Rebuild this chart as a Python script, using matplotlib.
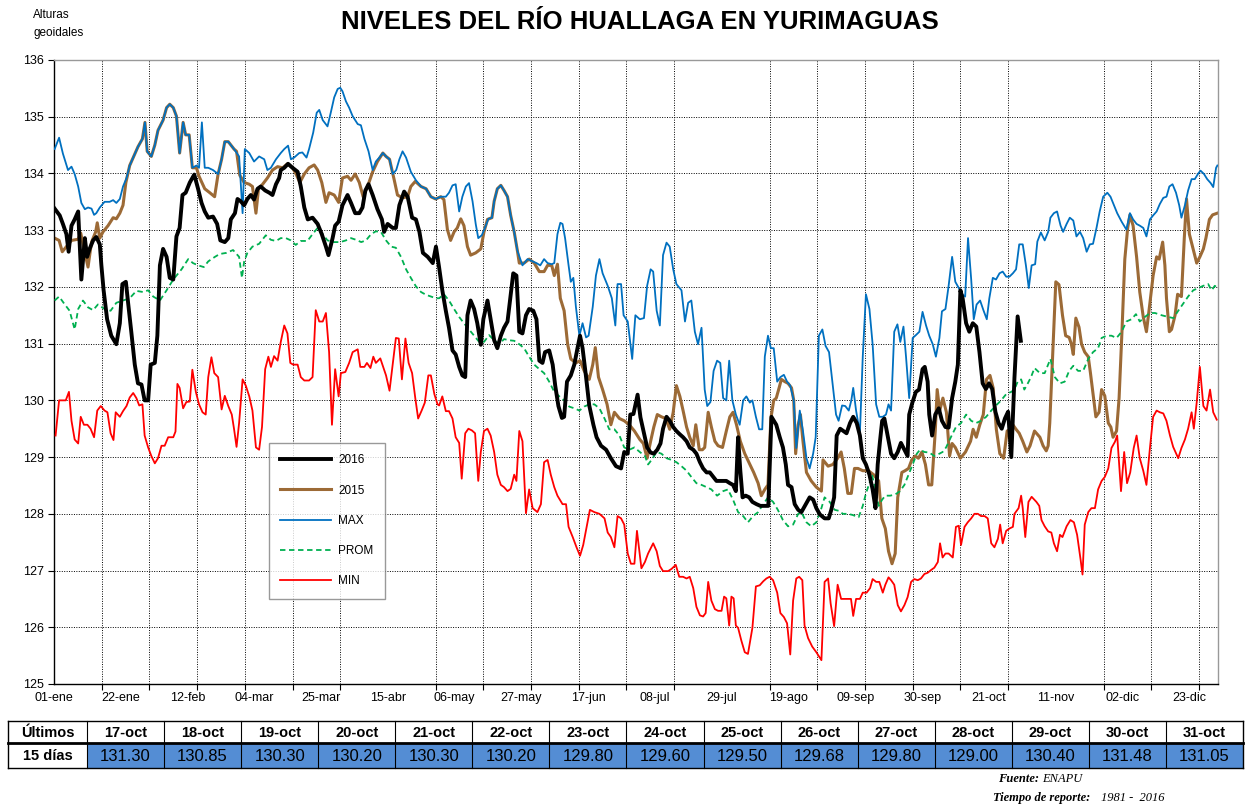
import matplotlib
matplotlib.use("Agg")
import matplotlib.pyplot as plt
from matplotlib import font_manager
from matplotlib.patches import Rectangle
from matplotlib.lines import Line2D

# --- datos (dia del año, cota) ---
serie_2016 = [
    (0.2, 133.38), (1.8, 133.26), (2.8, 133.11), (3.9, 132.93), (4.6, 132.62), (5.5, 133.08),
    (6.5, 133.19), (7.6, 133.33), (8.1, 132.71), (8.6, 132.13), (9.7, 132.86), (10.4, 132.53),
    (11.2, 132.67), (12.3, 132.82), (13.3, 132.88), (14.4, 132.75), (14.9, 132.38), (15.6, 131.94),
    (16.7, 131.43), (18.0, 131.14), (19.6, 130.99), (20.7, 131.36), (21.5, 132.05), (22.6, 132.09),
    (23.3, 131.72), (24.3, 131.21), (25.4, 130.63), (26.4, 130.30), (27.5, 130.28), (28.5, 130.00),
    (29.6, 130.00), (30.4, 130.63), (31.7, 130.66), (32.5, 131.14), (33.3, 132.38), (34.3, 132.67),
    (35.4, 132.53), (36.4, 132.16), (37.5, 132.13), (38.5, 132.89), (39.5, 133.04), (40.4, 133.62),
    (41.4, 133.66), (42.7, 133.84), (44.1, 133.98), (45.3, 133.73), (46.4, 133.48), (47.4, 133.33),
    (48.5, 133.22), (50.0, 133.24), (51.3, 133.11), (52.3, 132.82), (53.7, 132.79), (54.8, 132.86),
    (55.6, 133.19), (56.9, 133.30), (57.7, 133.55), (58.7, 133.51), (59.8, 133.44), (60.8, 133.55),
    (61.9, 133.62), (62.9, 133.54), (64.0, 133.73), (65.0, 133.77), (66.4, 133.70), (67.7, 133.66),
    (68.7, 133.62), (69.8, 133.81), (70.8, 133.92), (71.3, 134.06), (72.4, 134.10), (73.6, 134.17),
    (75.0, 134.10), (76.6, 134.03), (77.6, 133.77), (78.7, 133.40), (79.8, 133.19), (81.3, 133.22),
    (82.9, 133.11), (84.2, 132.93), (85.5, 132.71), (86.3, 132.56), (87.6, 132.86), (88.4, 133.08),
    (89.5, 133.15), (90.7, 133.44), (92.3, 133.62), (93.4, 133.48), (94.7, 133.30), (96.0, 133.30),
    (97.0, 133.40), (97.9, 133.70), (98.9, 133.81), (100.2, 133.62), (101.7, 133.37), (103.1, 133.19),
    (103.8, 132.97), (104.9, 133.11), (106.5, 133.04), (107.5, 133.04), (108.6, 133.44), (110.1, 133.68),
    (111.2, 133.59), (112.6, 133.22), (113.8, 133.19), (114.9, 132.97), (116.0, 132.60), (117.5, 132.53),
    (119.1, 132.42), (120.1, 132.71), (121.1, 132.34), (122.1, 131.94), (123.2, 131.58), (124.2, 131.28),
    (125.3, 130.88), (126.3, 130.81), (127.4, 130.59), (128.4, 130.44), (129.3, 130.41), (130.0, 131.50),
    (131.0, 131.76), (132.1, 131.61), (133.1, 131.36), (134.2, 130.98), (135.0, 131.43), (136.3, 131.76),
    (137.3, 131.43), (138.4, 131.06), (139.4, 130.92), (140.5, 131.14), (141.5, 131.28), (142.6, 131.39),
    (143.6, 131.86), (144.4, 132.24), (145.4, 132.20), (146.3, 131.21), (147.3, 131.18), (148.4, 131.50),
    (149.4, 131.61), (150.7, 131.58), (151.7, 131.43), (152.6, 130.70), (153.6, 130.66), (154.4, 130.85),
    (155.7, 130.88), (156.8, 130.63), (157.6, 130.26), (158.6, 129.90), (159.7, 129.69), (160.4, 129.71),
    (161.3, 130.33), (162.5, 130.44), (163.6, 130.63), (164.6, 130.92), (165.4, 131.14), (166.2, 130.92),
    (167.3, 130.41), (168.3, 129.91), (169.6, 129.57), (170.6, 129.35), (172.0, 129.20), (173.6, 129.13),
    (175.1, 128.98), (176.7, 128.84), (178.3, 128.80), (179.3, 129.09), (180.4, 129.06), (181.2, 129.75),
    (182.2, 129.76), (183.5, 130.10), (184.4, 129.70), (185.5, 129.42), (186.5, 129.17), (187.6, 129.08),
    (188.6, 129.06), (189.7, 129.13), (190.7, 129.24), (191.5, 129.50), (192.6, 129.71), (193.6, 129.64),
    (194.7, 129.53), (195.7, 129.46), (196.8, 129.40), (197.8, 129.35), (198.9, 129.28), (199.9, 129.17),
    (201.0, 129.13), (202.0, 129.06), (203.1, 128.91), (204.1, 128.80), (205.2, 128.73), (206.2, 128.73),
    (207.3, 128.65), (208.3, 128.58), (209.3, 128.58), (210.4, 128.58), (211.4, 128.58), (212.5, 128.54),
    (213.5, 128.51), (214.4, 128.40), (215.1, 129.35), (215.8, 128.76), (216.5, 128.29), (217.5, 128.32),
    (218.6, 128.29), (219.6, 128.21), (220.9, 128.17), (222.1, 128.14), (223.5, 128.14), (224.6, 128.14),
    (225.6, 129.71), (227.1, 129.57), (228.2, 129.35), (229.2, 129.17), (230.1, 128.87), (230.8, 128.51),
    (231.9, 128.47), (232.9, 128.17), (234.0, 128.07), (235.0, 128.03), (236.4, 128.17), (237.6, 128.29),
    (238.7, 128.25), (239.7, 128.10), (240.8, 127.99), (242.3, 127.92), (243.6, 127.92), (244.4, 128.07),
    (245.3, 128.29), (246.1, 129.38), (247.2, 129.50), (248.2, 129.46), (249.2, 129.42), (250.3, 129.60),
    (251.3, 129.71), (252.4, 129.60), (253.4, 129.38), (254.3, 128.98), (255.3, 128.87), (256.4, 128.69),
    (257.4, 128.43), (258.3, 128.10), (259.0, 128.87), (259.7, 129.27), (260.4, 129.64), (261.1, 129.68),
    (262.1, 129.38), (263.2, 129.06), (264.2, 128.98), (265.3, 129.09), (266.3, 129.25), (267.4, 129.13),
    (268.4, 129.02), (268.9, 129.75), (269.9, 129.96), (271.0, 130.15), (272.0, 130.19), (273.1, 130.55),
    (273.8, 130.59), (274.7, 130.33), (275.2, 129.75), (276.1, 129.38), (277.1, 129.75), (278.2, 129.86),
    (279.2, 129.64), (280.3, 129.53), (281.3, 129.52), (282.4, 130.04), (283.4, 130.33), (284.2, 130.63),
    (285.0, 131.94), (285.7, 131.80), (286.8, 131.36), (287.8, 131.21), (288.9, 131.36),
]

# ultimos 15 dias (17-oct a 31-oct)
ultimos_fechas = ["17-oct", "18-oct", "19-oct", "20-oct", "21-oct", "22-oct", "23-oct", "24-oct",
                  "25-oct", "26-oct", "27-oct", "28-oct", "29-oct", "30-oct", "31-oct"]
ultimos_vals = [131.30, 130.85, 130.30, 130.20, 130.30, 130.20, 129.80, 129.60,
                129.50, 129.68, 129.80, 129.00, 130.40, 131.48, 131.05]
ultimos_dia0 = 290  # 17-oct en año bisiesto

serie_2015 = [
    (0.2, 132.86), (1.6, 132.82), (2.6, 132.62), (3.9, 132.71), (5.5, 132.82), (7.6, 132.84),
    (8.4, 132.95), (9.7, 132.60), (10.7, 132.35), (11.8, 132.79), (13.1, 132.97), (13.6, 133.13),
    (14.4, 132.86), (15.4, 132.97), (17.0, 133.08), (18.6, 133.22), (19.6, 133.20), (20.7, 133.30),
    (21.7, 133.44), (22.6, 133.84), (23.8, 134.14), (24.9, 134.28), (26.4, 134.47), (27.8, 134.61),
    (28.6, 134.90), (29.3, 134.39), (30.6, 134.30), (31.7, 134.50), (32.7, 134.76), (34.3, 134.94),
    (35.4, 135.16), (36.4, 135.22), (37.5, 135.16), (38.5, 135.01), (39.5, 134.36), (40.6, 134.90),
    (41.4, 134.68), (42.5, 134.68), (43.5, 134.10), (44.8, 134.10), (45.6, 133.95), (47.4, 133.73),
    (49.0, 133.66), (50.5, 133.59), (51.6, 133.99), (52.7, 134.25), (53.7, 134.56), (54.8, 134.56),
    (56.6, 134.43), (57.4, 134.39), (58.4, 133.97), (59.8, 133.84), (61.4, 133.81), (62.4, 133.77),
    (63.5, 133.30), (64.3, 133.73), (65.6, 133.81), (67.1, 133.92), (68.7, 134.06), (70.3, 134.12),
    (71.9, 134.10), (73.4, 134.17), (75.0, 134.10), (76.1, 133.99), (77.3, 133.84), (78.7, 133.99),
    (80.2, 134.10), (81.8, 134.15), (82.9, 134.06), (84.2, 133.84), (85.5, 133.49), (86.5, 133.66),
    (88.1, 133.62), (89.5, 133.49), (90.7, 133.92), (92.3, 133.95), (93.4, 133.88), (94.7, 133.99),
    (96.0, 133.84), (97.2, 133.59), (98.6, 133.77), (100.2, 134.03), (101.7, 134.21), (103.4, 134.36),
    (104.4, 134.30), (105.5, 134.25), (107.0, 133.88), (108.0, 133.62), (109.6, 133.57), (111.2, 133.59),
    (112.2, 133.77), (113.6, 133.86), (115.4, 133.77), (117.0, 133.73), (118.5, 133.59), (120.0, 133.55),
    (121.6, 133.59), (122.6, 133.54), (123.7, 133.01), (124.7, 132.82), (125.8, 132.97), (126.8, 133.04),
    (127.9, 133.20), (128.9, 133.08), (130.0, 132.71), (131.0, 132.56), (132.6, 132.60), (134.2, 132.67),
    (135.2, 132.97), (136.3, 133.19), (137.7, 133.22), (138.4, 133.51), (139.4, 133.73), (140.5, 133.79),
    (141.5, 133.70), (142.6, 133.59), (143.6, 133.26), (144.7, 132.97), (145.7, 132.64), (146.3, 132.42),
    (147.8, 132.42), (149.4, 132.49), (151.0, 132.42), (152.6, 132.27), (154.1, 132.27), (155.2, 132.38),
    (156.5, 132.38), (157.3, 132.20), (158.3, 132.40), (159.2, 131.80), (160.4, 131.58), (161.5, 130.99),
    (162.5, 130.73), (164.1, 130.66), (165.4, 130.70), (166.7, 130.52), (168.3, 130.37), (169.4, 130.63),
    (170.2, 130.93), (171.2, 130.41), (172.5, 130.19), (173.9, 129.93), (175.1, 129.57), (176.2, 129.79),
    (177.8, 129.68), (179.3, 129.64), (180.9, 129.57), (182.5, 129.46), (184.2, 129.31), (185.3, 129.24),
    (186.5, 128.98), (187.6, 129.28), (188.6, 129.53), (189.7, 129.75), (191.0, 129.71), (192.4, 129.68),
    (193.6, 129.49), (194.7, 129.79), (195.7, 130.26), (196.8, 130.07), (197.8, 129.82), (198.9, 129.53),
    (199.9, 129.35), (201.0, 129.20), (201.8, 129.57), (202.9, 129.13), (203.9, 129.13), (204.6, 129.17),
    (205.7, 129.79), (206.7, 129.53), (207.8, 129.28), (208.8, 129.20), (210.2, 129.17), (211.4, 129.46),
    (212.5, 129.71), (213.5, 129.79), (214.6, 129.57), (215.8, 129.28), (217.2, 129.06), (218.8, 128.87),
    (220.0, 128.73), (221.4, 128.54), (222.4, 128.32), (223.5, 128.43), (224.5, 128.51), (225.4, 129.68),
    (226.3, 130.00), (227.1, 130.04), (228.0, 130.22), (228.7, 130.37), (229.8, 130.33), (230.8, 130.30),
    (231.9, 130.22), (232.6, 130.00), (233.2, 129.06), (234.0, 129.57), (234.7, 129.75), (235.5, 129.28),
    (236.6, 128.73), (238.1, 128.58), (239.7, 128.47), (241.3, 128.40), (241.8, 128.95), (243.4, 128.84),
    (244.9, 128.87), (246.4, 128.98), (247.5, 129.09), (248.5, 128.80), (249.6, 128.36), (250.7, 128.36),
    (251.7, 128.80), (252.8, 128.80), (254.3, 128.76), (256.1, 128.76), (257.7, 128.69), (259.3, 128.58),
    (260.3, 127.92), (261.4, 127.74), (262.4, 127.34), (263.5, 127.12), (264.5, 127.30), (265.3, 128.29),
    (266.6, 128.73), (267.6, 128.76), (268.7, 128.80), (269.7, 128.95), (270.8, 129.02), (271.8, 128.98),
    (272.9, 129.09), (274.0, 128.87), (275.0, 128.51), (276.0, 128.51), (277.1, 129.46), (277.7, 130.19),
    (278.5, 129.82), (279.5, 130.04), (280.6, 129.79), (281.6, 129.02), (282.4, 129.24), (283.4, 129.17),
    (285.0, 128.98), (286.6, 129.09), (288.2, 129.28), (289.0, 129.49), (290.0, 129.35), (291.1, 129.57),
    (292.2, 129.75), (293.2, 130.37), (294.3, 130.44), (295.3, 130.22), (296.3, 129.49), (297.4, 129.06),
    (298.6, 128.98), (299.7, 129.46), (300.7, 129.49), (301.5, 129.57), (302.5, 129.49), (303.5, 129.42),
    (304.6, 129.28), (305.9, 129.09), (306.9, 129.20), (308.3, 129.46), (310.0, 129.35), (311.0, 129.20),
    (312.0, 129.11), (312.6, 129.20), (313.1, 129.60), (313.9, 130.66), (315.0, 132.09), (316.0, 132.04),
    (317.1, 131.50), (318.1, 131.14), (319.2, 131.11), (319.9, 130.99), (320.5, 130.81), (321.3, 131.45),
    (322.3, 131.29), (323.1, 130.99), (324.1, 130.85), (325.2, 130.77), (325.9, 130.48), (326.7, 130.12),
    (327.6, 129.71), (328.6, 129.79), (329.4, 130.19), (330.4, 130.08), (331.5, 129.60), (332.3, 129.53),
    (333.0, 129.35), (334.1, 129.46), (334.9, 130.04), (335.8, 131.21), (336.7, 132.49), (337.6, 133.04),
    (338.3, 133.27), (339.3, 133.08), (340.4, 132.53), (341.4, 131.91), (342.5, 131.47), (343.5, 131.21),
    (344.6, 131.72), (345.6, 132.20), (346.7, 132.53), (347.5, 132.49), (348.6, 132.79), (349.3, 132.38),
    (349.8, 131.80), (350.7, 131.21), (351.4, 131.25), (352.5, 131.50), (353.3, 131.87), (354.5, 131.83),
    (355.4, 132.86), (356.1, 133.55), (357.0, 132.93), (358.0, 132.71), (359.3, 132.42), (360.3, 132.53),
    (361.4, 132.67), (362.2, 132.86), (363.3, 133.19), (364.3, 133.27), (365.8, 133.30),
]

serie_max = [
    (0.2, 134.43), (1.6, 134.63), (2.8, 134.35), (4.4, 134.06), (5.5, 134.12), (6.5, 133.99),
    (7.6, 133.77), (8.6, 133.48), (9.7, 133.37), (10.7, 133.40), (11.8, 133.38), (12.6, 133.27),
    (13.3, 133.30), (14.4, 133.40), (15.9, 133.50), (17.5, 133.50), (18.6, 133.53), (19.6, 133.48),
    (20.7, 133.55), (21.7, 133.77), (22.8, 133.92), (23.8, 134.14), (24.9, 134.28), (26.4, 134.47),
    (27.8, 134.61), (28.6, 134.90), (29.3, 134.39), (30.6, 134.30), (31.7, 134.50), (32.7, 134.76),
    (34.3, 134.94), (35.4, 135.16), (36.4, 135.22), (37.5, 135.16), (38.5, 135.01), (39.5, 134.36),
    (40.6, 134.90), (41.4, 134.68), (42.5, 134.68), (43.5, 134.10), (44.8, 134.14), (45.6, 134.10),
    (46.5, 134.90), (47.4, 134.10), (48.5, 134.10), (50.0, 134.06), (51.6, 133.99), (52.7, 134.25),
    (53.7, 134.56), (54.8, 134.56), (56.6, 134.43), (58.2, 134.30), (59.3, 133.30), (60.0, 134.43),
    (61.4, 134.36), (62.9, 134.21), (64.5, 134.30), (66.1, 134.25), (67.1, 134.06), (68.2, 134.10),
    (69.8, 134.25), (71.3, 134.36), (72.4, 134.43), (73.6, 134.49), (74.5, 134.25), (75.5, 134.28),
    (77.1, 134.36), (78.1, 134.37), (79.4, 134.28), (80.2, 134.43), (81.5, 134.72), (82.6, 135.07),
    (83.4, 135.12), (84.5, 134.94), (86.0, 134.83), (87.1, 135.09), (88.1, 135.34), (89.2, 135.49),
    (90.0, 135.51), (90.7, 135.45), (91.8, 135.27), (92.8, 135.16), (93.9, 135.01), (95.5, 134.87),
    (96.5, 134.85), (97.6, 134.61), (98.9, 134.39), (100.2, 134.06), (101.2, 134.21), (102.3, 134.28),
    (103.4, 134.36), (104.4, 134.30), (105.5, 134.25), (106.5, 133.99), (107.6, 134.06), (108.6, 134.25),
    (109.6, 134.39), (110.7, 134.28), (112.2, 134.03), (113.8, 133.88), (115.4, 133.77), (117.0, 133.73),
    (118.5, 133.59), (120.0, 133.55), (121.6, 133.59), (123.2, 133.59), (124.2, 133.66), (125.3, 133.79),
    (126.3, 133.81), (127.4, 133.33), (128.4, 133.59), (129.5, 133.77), (130.5, 133.83), (131.6, 133.51),
    (132.6, 133.11), (133.4, 132.86), (134.5, 132.91), (135.5, 133.04), (136.6, 133.20), (137.7, 133.22),
    (138.4, 133.51), (139.4, 133.73), (140.5, 133.79), (141.5, 133.70), (142.6, 133.59), (143.6, 133.26),
    (144.7, 132.97), (145.7, 132.64), (147.3, 132.38), (148.9, 132.49), (150.5, 132.45), (151.7, 132.42),
    (152.9, 132.38), (154.1, 132.49), (155.2, 132.42), (156.5, 132.40), (157.3, 132.42), (158.3, 132.93),
    (159.2, 133.13), (159.9, 133.11), (160.7, 132.86), (161.8, 132.38), (162.5, 132.09), (163.3, 132.16),
    (164.1, 131.65), (165.2, 131.14), (166.2, 131.36), (167.3, 131.11), (168.1, 131.14), (169.4, 131.65),
    (170.4, 132.20), (171.5, 132.49), (172.5, 132.24), (174.1, 132.02), (175.4, 131.80), (176.5, 131.32),
    (177.2, 132.05), (178.3, 132.05), (179.1, 131.50), (180.4, 131.39), (181.8, 130.73), (182.8, 131.50),
    (184.2, 131.43), (185.5, 131.45), (186.5, 132.02), (187.6, 132.31), (188.4, 132.27), (189.5, 131.58),
    (190.5, 131.32), (191.5, 132.56), (192.6, 132.78), (193.6, 132.71), (194.7, 132.31), (195.7, 132.05),
    (197.3, 131.94), (198.4, 131.39), (199.4, 131.72), (200.4, 131.76), (201.5, 131.21), (202.5, 130.99),
    (203.6, 131.28), (204.6, 130.19), (205.4, 129.90), (206.4, 129.97), (207.4, 130.52), (208.5, 130.70),
    (209.5, 130.66), (210.4, 130.04), (211.4, 130.00), (212.3, 130.70), (213.3, 130.00), (214.4, 129.75),
    (215.6, 129.57), (216.7, 130.00), (217.7, 130.07), (218.8, 129.96), (219.6, 130.00), (220.7, 129.71),
    (221.7, 129.49), (222.7, 129.49), (223.5, 130.77), (224.5, 131.14), (225.4, 130.92), (226.3, 130.92),
    (227.4, 130.33), (228.4, 130.41), (229.5, 130.45), (230.5, 130.33), (231.5, 130.26), (232.6, 130.00),
    (233.4, 129.16), (234.5, 129.82), (235.5, 129.46), (236.6, 128.98), (237.6, 128.80), (238.7, 129.06),
    (239.5, 129.35), (240.5, 131.14), (241.6, 131.25), (242.6, 130.96), (243.7, 130.85), (244.8, 130.30),
    (245.9, 129.75), (246.7, 129.64), (247.8, 129.91), (248.8, 129.90), (249.9, 129.82), (250.7, 130.00),
    (251.3, 130.22), (252.2, 129.82), (253.4, 129.42), (254.3, 130.77), (255.3, 131.87), (256.4, 131.61),
    (257.4, 130.99), (258.5, 129.93), (259.5, 129.71), (260.6, 129.71), (261.6, 129.75), (262.4, 129.93),
    (263.2, 129.82), (264.2, 131.21), (265.2, 131.34), (266.1, 131.03), (267.1, 131.30), (267.9, 130.77),
    (268.9, 130.04), (270.0, 131.10), (271.0, 131.15), (272.1, 131.21), (273.1, 131.56), (274.2, 131.32),
    (275.2, 131.14), (276.3, 130.99), (277.3, 130.77), (278.4, 131.10), (279.2, 131.57), (280.3, 131.61),
    (281.3, 132.02), (282.4, 132.53), (283.4, 132.09), (284.5, 131.98), (285.5, 131.87), (286.5, 131.83),
    (287.4, 132.86), (288.4, 132.13), (289.2, 131.43), (290.1, 131.69), (291.2, 131.76), (292.3, 131.58),
    (293.3, 131.43), (294.1, 131.80), (295.2, 132.16), (296.2, 132.13), (297.3, 132.24), (298.3, 132.27),
    (299.4, 132.18), (300.4, 132.18), (301.5, 132.24), (302.5, 132.31), (303.5, 132.75), (304.6, 132.75),
    (305.6, 132.38), (306.5, 131.98), (307.4, 132.38), (308.5, 132.40), (309.2, 132.80), (310.3, 132.96),
    (311.5, 132.82), (312.6, 132.97), (313.3, 133.22), (314.4, 133.30), (315.4, 133.33), (316.5, 133.08),
    (317.3, 132.97), (318.4, 133.11), (319.4, 133.22), (320.5, 133.17), (321.5, 132.89), (322.6, 132.97),
    (323.6, 132.86), (324.7, 132.62), (325.7, 132.75), (326.7, 132.76), (327.8, 133.04), (328.8, 133.33),
    (329.9, 133.59), (331.2, 133.66), (332.2, 133.59), (333.3, 133.44), (334.3, 133.30), (335.7, 133.15),
    (337.2, 133.01), (338.3, 133.30), (339.3, 133.19), (340.4, 133.11), (341.4, 133.08), (342.5, 133.04),
    (343.5, 132.89), (344.6, 133.19), (345.6, 133.26), (346.7, 133.33), (347.7, 133.46), (348.8, 133.57),
    (349.8, 133.59), (350.7, 133.77), (351.7, 133.81), (352.8, 133.66), (353.8, 133.44), (354.5, 133.22),
    (355.6, 133.44), (356.6, 133.70), (357.7, 133.90), (358.7, 133.90), (359.8, 134.00), (360.5, 134.05),
    (361.6, 133.99), (362.6, 133.90), (363.7, 133.83), (364.5, 133.76), (365.4, 134.10), (365.8, 134.14),
]

serie_prom = [
    (0.2, 131.76), (1.6, 131.83), (3.4, 131.69), (4.9, 131.58), (6.5, 131.25), (7.6, 131.61),
    (9.1, 131.76), (10.7, 131.64), (12.3, 131.59), (13.8, 131.69), (15.9, 131.61), (17.8, 131.58),
    (19.6, 131.72), (21.7, 131.76), (23.8, 131.80), (25.9, 131.93), (28.0, 131.91), (29.6, 131.94),
    (31.2, 131.83), (33.3, 131.76), (35.4, 131.94), (37.5, 132.13), (40.1, 132.31), (42.2, 132.49),
    (43.7, 132.42), (45.3, 132.38), (47.1, 132.35), (48.5, 132.45), (50.6, 132.53), (52.1, 132.58),
    (54.2, 132.60), (56.3, 132.65), (58.2, 132.53), (59.1, 132.16), (59.8, 132.45), (60.8, 132.60),
    (62.4, 132.71), (64.5, 132.76), (66.6, 132.91), (68.2, 132.83), (69.8, 132.81), (71.3, 132.86),
    (72.9, 132.86), (74.5, 132.82), (76.0, 132.74), (77.6, 132.81), (79.7, 132.81), (81.3, 132.93),
    (82.9, 133.04), (84.5, 132.93), (86.0, 132.82), (88.1, 132.79), (90.0, 132.79), (91.8, 132.82),
    (93.4, 132.86), (95.0, 132.83), (96.6, 132.79), (98.1, 132.82), (99.7, 132.93), (101.2, 132.98),
    (102.8, 132.97), (104.4, 132.82), (106.0, 132.71), (107.5, 132.69), (109.1, 132.53), (110.7, 132.31),
    (112.2, 132.16), (113.8, 132.01), (115.4, 131.91), (117.0, 131.86), (118.5, 131.83), (120.1, 131.80),
    (121.1, 131.80), (122.6, 131.87), (124.2, 131.76), (125.8, 131.61), (127.4, 131.47), (128.9, 131.36),
    (130.5, 131.25), (132.1, 131.14), (133.7, 131.03), (135.2, 131.03), (136.8, 131.15), (138.4, 131.06),
    (140.0, 130.99), (141.5, 131.08), (143.1, 131.06), (144.7, 131.05), (146.3, 130.99), (147.8, 130.92),
    (149.4, 130.77), (151.0, 130.63), (152.6, 130.55), (154.1, 130.48), (155.7, 130.33), (157.3, 130.15),
    (158.9, 130.07), (160.4, 130.00), (162.0, 129.89), (163.6, 129.86), (165.2, 129.82), (166.7, 129.89),
    (168.3, 129.93), (169.9, 129.93), (171.5, 129.86), (173.1, 129.68), (174.6, 129.49), (176.2, 129.49),
    (177.8, 129.38), (179.3, 129.17), (180.9, 129.13), (182.5, 129.17), (184.2, 129.09), (185.8, 129.02),
    (186.8, 128.87), (187.9, 128.95), (189.5, 129.09), (191.0, 129.06), (192.6, 128.98), (194.2, 128.95),
    (195.7, 128.91), (197.3, 128.84), (198.9, 128.76), (200.4, 128.65), (202.0, 128.54), (203.6, 128.51),
    (205.2, 128.47), (206.7, 128.43), (208.5, 128.32), (210.4, 128.40), (211.9, 128.43), (213.5, 128.25),
    (215.1, 128.03), (216.7, 127.96), (218.2, 127.85), (219.8, 127.96), (221.4, 128.03), (223.0, 128.17),
    (224.5, 128.29), (226.1, 128.21), (227.6, 128.07), (229.2, 127.89), (230.8, 127.78), (232.4, 127.81),
    (234.0, 128.00), (235.0, 128.03), (236.6, 127.85), (238.1, 127.78), (239.7, 127.85), (241.3, 128.10),
    (242.3, 128.29), (243.9, 128.21), (245.5, 128.07), (247.0, 128.05), (248.0, 128.00), (249.6, 128.00),
    (251.1, 127.98), (253.0, 127.94), (254.3, 128.14), (255.3, 128.36), (256.4, 128.54), (257.2, 128.69),
    (258.3, 128.43), (259.3, 128.14), (260.4, 128.25), (261.4, 128.32), (262.9, 128.32), (264.5, 128.34),
    (266.0, 128.40), (267.4, 128.51), (268.7, 128.69), (270.0, 128.87), (271.3, 129.06), (272.3, 129.13),
    (273.7, 129.09), (275.2, 129.08), (276.8, 129.02), (278.4, 129.06), (279.4, 129.09), (280.5, 129.17),
    (282.0, 129.35), (283.6, 129.53), (285.2, 129.60), (286.8, 129.75), (288.4, 129.64), (289.9, 129.60),
    (291.5, 129.64), (293.1, 129.71), (294.7, 129.82), (296.2, 129.91), (297.8, 130.00), (299.4, 130.11),
    (301.0, 130.15), (302.0, 130.19), (303.0, 130.33), (304.1, 130.37), (305.1, 130.19), (306.2, 130.30),
    (307.2, 130.41), (308.3, 130.57), (310.0, 130.48), (311.5, 130.48), (313.3, 130.73), (314.7, 130.41),
    (316.3, 130.30), (317.8, 130.33), (319.2, 130.52), (320.5, 130.61), (322.0, 130.52), (323.6, 130.52),
    (325.2, 130.73), (326.7, 130.85), (328.3, 130.92), (329.4, 131.10), (331.0, 131.14), (332.5, 131.14),
    (334.1, 131.10), (335.7, 131.21), (337.2, 131.39), (338.8, 131.43), (340.2, 131.52), (341.4, 131.39),
    (343.0, 131.47), (344.6, 131.54), (346.2, 131.54), (348.3, 131.50), (350.4, 131.47), (352.0, 131.45),
    (353.5, 131.58), (355.1, 131.71), (356.6, 131.83), (358.2, 131.94), (359.8, 131.98), (361.4, 132.02),
    (362.9, 132.05), (364.0, 131.94), (365.0, 132.02), (365.8, 131.98),
]

serie_min = [
    (0.5, 129.38), (1.6, 130.00), (2.8, 130.00), (3.7, 130.00), (4.7, 130.15), (5.5, 129.64),
    (6.5, 129.31), (7.6, 129.24), (8.4, 129.71), (9.4, 129.57), (10.5, 129.57), (11.5, 129.50),
    (12.6, 129.35), (13.6, 129.82), (14.7, 129.90), (15.9, 129.82), (16.8, 129.79), (17.8, 129.42),
    (18.7, 129.30), (19.4, 129.79), (20.7, 129.71), (21.7, 129.81), (22.8, 129.90), (23.8, 130.05),
    (24.9, 130.13), (25.9, 130.04), (26.8, 129.91), (27.8, 129.93), (28.5, 129.38), (29.6, 129.17),
    (30.6, 129.02), (31.7, 128.89), (32.7, 128.98), (33.8, 129.20), (34.8, 129.20), (35.9, 129.35),
    (37.5, 129.35), (38.2, 129.45), (38.8, 130.29), (39.5, 130.22), (40.6, 129.86), (41.6, 129.97),
    (42.7, 129.98), (43.5, 130.54), (44.6, 130.15), (45.6, 129.93), (46.7, 129.79), (47.7, 129.75),
    (48.5, 130.41), (49.5, 130.76), (50.4, 130.48), (51.6, 130.41), (52.7, 129.84), (53.7, 130.08),
    (54.8, 129.90), (55.9, 129.75), (56.6, 129.50), (57.4, 129.18), (58.2, 129.60), (59.3, 130.37),
    (60.3, 130.26), (61.4, 130.07), (62.4, 129.82), (63.5, 129.17), (64.5, 129.13), (65.4, 129.53),
    (66.4, 130.55), (67.4, 130.77), (68.2, 130.59), (69.2, 130.78), (70.3, 130.70), (71.3, 131.03),
    (72.4, 131.32), (73.4, 131.18), (74.3, 130.66), (75.2, 130.63), (76.6, 130.63), (77.6, 130.41),
    (78.7, 130.35), (80.2, 130.35), (81.3, 130.41), (82.3, 131.59), (83.4, 131.39), (84.5, 131.39),
    (85.5, 131.54), (86.5, 130.85), (87.4, 129.57), (88.4, 130.55), (89.5, 130.07), (90.2, 130.48),
    (91.6, 130.50), (92.8, 130.66), (93.9, 130.85), (95.5, 130.90), (96.3, 130.59), (97.6, 130.59),
    (98.4, 130.66), (99.5, 130.57), (100.4, 130.77), (101.2, 130.66), (102.6, 130.74), (104.4, 130.44),
    (105.5, 130.17), (106.5, 130.63), (107.5, 131.10), (108.4, 131.09), (109.4, 130.37), (110.5, 131.09),
    (111.5, 130.66), (112.6, 130.48), (113.6, 130.04), (114.5, 129.68), (115.6, 129.82), (116.6, 129.96),
    (117.7, 130.44), (118.5, 130.44), (119.6, 130.11), (120.6, 129.93), (121.1, 129.91), (122.1, 130.07),
    (123.2, 129.81), (124.2, 129.81), (125.3, 129.68), (126.3, 129.35), (127.4, 129.25), (128.2, 128.62),
    (129.3, 129.42), (130.3, 129.50), (131.4, 129.47), (132.4, 129.42), (133.4, 128.58), (134.2, 129.09),
    (135.2, 129.46), (136.3, 129.50), (137.3, 129.38), (138.4, 129.09), (139.4, 128.69), (140.5, 128.51),
    (141.5, 128.47), (142.6, 128.40), (143.6, 128.44), (144.7, 128.69), (145.4, 128.58), (146.3, 129.46),
    (147.3, 129.28), (148.4, 128.01), (149.4, 128.43), (150.5, 128.10), (152.0, 128.03), (153.1, 128.17),
    (154.1, 128.91), (155.2, 128.95), (156.2, 128.69), (157.3, 128.47), (158.3, 128.32), (159.9, 128.17),
    (161.0, 128.17), (161.8, 127.77), (163.1, 127.59), (164.3, 127.41), (165.4, 127.26), (166.4, 127.45),
    (167.5, 127.77), (168.5, 128.07), (169.9, 128.03), (171.5, 128.00), (173.1, 127.92), (174.1, 127.67),
    (175.1, 127.59), (176.2, 127.41), (177.2, 127.96), (178.3, 127.92), (179.3, 127.81), (180.4, 127.30),
    (181.4, 127.12), (182.5, 127.12), (183.3, 127.70), (183.9, 127.41), (184.7, 127.04), (185.8, 127.15),
    (186.8, 127.30), (188.4, 127.48), (189.5, 127.34), (190.5, 127.08), (191.5, 126.99), (193.1, 126.99),
    (194.2, 127.03), (195.5, 127.10), (196.6, 126.89), (197.8, 126.89), (198.9, 126.86), (199.9, 126.89),
    (201.0, 126.69), (202.0, 126.36), (203.1, 126.21), (204.1, 126.19), (204.9, 126.25), (205.7, 126.80),
    (206.7, 126.47), (207.8, 126.32), (208.8, 126.29), (209.9, 126.29), (210.7, 126.54), (211.4, 126.51),
    (212.3, 126.03), (213.0, 126.54), (213.7, 126.51), (214.4, 126.03), (215.1, 125.99), (216.1, 125.77),
    (217.2, 125.56), (218.2, 125.53), (219.6, 125.99), (220.7, 126.72), (221.9, 126.74), (223.0, 126.81),
    (224.0, 126.86), (225.0, 126.89), (226.1, 126.83), (227.4, 126.61), (228.4, 126.25), (229.5, 126.18),
    (230.5, 126.07), (231.5, 125.52), (232.4, 126.47), (233.4, 126.86), (234.3, 126.89), (235.3, 126.83),
    (236.0, 126.03), (237.1, 125.81), (238.4, 125.66), (239.7, 125.56), (241.3, 125.42), (242.3, 126.80),
    (243.4, 126.86), (244.2, 126.42), (245.3, 126.02), (246.4, 126.75), (247.5, 126.50), (249.0, 126.50),
    (250.6, 126.50), (251.3, 126.20), (252.2, 126.50), (253.4, 126.50), (254.3, 126.61), (255.5, 126.61),
    (256.6, 126.69), (257.4, 126.85), (258.5, 126.80), (259.5, 126.80), (260.6, 126.61), (261.4, 126.75),
    (262.4, 126.88), (263.2, 126.83), (264.2, 126.75), (265.3, 126.39), (266.3, 126.28), (267.4, 126.39),
    (268.4, 126.53), (269.5, 126.80), (270.5, 126.85), (271.6, 126.83), (272.6, 126.86), (273.7, 126.94),
    (274.7, 126.96), (275.8, 127.01), (276.8, 127.05), (277.9, 127.15), (278.6, 127.48), (279.4, 127.23),
    (280.3, 127.30), (281.3, 127.30), (282.6, 127.23), (283.6, 127.77), (284.5, 127.79), (285.2, 127.45),
    (286.3, 127.77), (287.3, 127.85), (288.4, 127.92), (289.4, 128.00), (290.5, 128.00), (291.5, 127.96),
    (292.6, 127.96), (293.6, 127.92), (294.7, 127.48), (295.7, 127.41), (296.8, 127.56), (297.5, 127.81),
    (298.3, 127.48), (299.4, 127.70), (300.4, 127.74), (301.5, 127.77), (302.0, 128.00), (303.3, 128.10),
    (304.1, 128.32), (304.6, 128.10), (305.4, 127.59), (306.4, 128.21), (307.4, 128.30), (308.9, 128.21),
    (309.8, 128.14), (310.5, 127.89), (311.5, 127.78), (312.6, 127.69), (313.6, 127.67), (314.4, 127.48),
    (315.4, 127.34), (316.3, 127.63), (317.1, 127.59), (318.4, 127.78), (319.6, 127.89), (320.7, 127.85),
    (321.7, 127.63), (322.8, 127.19), (323.4, 126.93), (324.1, 127.81), (325.2, 128.03), (326.2, 128.10),
    (327.3, 128.10), (328.3, 128.43), (329.4, 128.58), (330.4, 128.65), (331.5, 128.80), (332.5, 129.16),
    (333.6, 129.27), (334.3, 129.38), (335.5, 128.40), (336.5, 129.09), (337.4, 128.54), (338.4, 128.73),
    (339.5, 129.16), (340.4, 129.38), (341.4, 128.98), (342.5, 128.76), (343.5, 128.51), (344.6, 129.16),
    (345.6, 129.71), (346.7, 129.82), (347.7, 129.79), (348.8, 129.77), (349.8, 129.64), (350.9, 129.38),
    (351.9, 129.18), (353.5, 128.98), (354.5, 129.16), (355.6, 129.31), (356.6, 129.50), (357.7, 129.79),
    (358.4, 129.50), (359.3, 129.96), (360.3, 130.59), (361.4, 129.90), (362.4, 129.82), (363.5, 130.19),
    (364.5, 129.79), (365.6, 129.66),
]

etiquetas_x = ["01-ene", "22-ene", "12-feb", "04-mar", "25-mar", "15-abr", "06-may", "27-may",
               "17-jun", "08-jul", "29-jul", "19-ago", "09-sep", "30-sep", "21-oct", "11-nov",
               "02-dic", "23-dic"]


def xy(serie):
    d = [p[0] for p in serie]
    v = [p[1] for p in serie]
    return d, v


# fuentes
nombres = {f.name for f in font_manager.fontManager.ttflist}
sans = "Liberation Sans" if "Liberation Sans" in nombres else "DejaVu Sans"
narrow = "Liberation Sans Narrow" if "Liberation Sans Narrow" in nombres else sans
serif = "Liberation Serif" if "Liberation Serif" in nombres else "DejaVu Serif"
plt.rcParams["font.family"] = [sans, "DejaVu Sans"]

W, H = 1251, 807
fig = plt.figure(figsize=(W / 100, H / 100), dpi=100)
ax = fig.add_axes([54 / W, 1 - 684 / H, (1218 - 54) / W, (684 - 60) / H])

# 2016 completo: lectura + ultimos 15 dias de la tabla
d16, v16 = xy(serie_2016)
d16 = d16 + [ultimos_dia0 + i for i in range(len(ultimos_vals))]
v16 = v16 + ultimos_vals

d, v = xy(serie_min)
ax.plot(d, v, color="#FF0000", lw=1.3, zorder=3)
d, v = xy(serie_prom)
ax.plot(d, v, color="#00B050", lw=1.3, ls=(0, (3, 2)), zorder=3)
d, v = xy(serie_2015)
ax.plot(d, v, color="#9C6A36", lw=2.2, zorder=2)
d, v = xy(serie_max)
ax.plot(d, v, color="#0070C0", lw=1.3, zorder=3)
ax.plot(d16, v16, color="black", lw=2.8, zorder=4)

ax.set_xlim(0, 366)
ax.set_ylim(125, 136)
ax.set_yticks(range(125, 137))
ax.set_xticks([21 * i for i in range(len(etiquetas_x))])
ax.set_xticklabels(etiquetas_x)
ax.set_xticks(range(0, 366, 15), minor=True)
ax.tick_params(axis="x", which="major", length=0, labelsize=9, pad=6)
ax.tick_params(axis="x", which="minor", length=4, direction="out", width=0.8)
ax.tick_params(axis="y", length=4, direction="out", width=0.8, labelsize=9, pad=3)
ax.grid(True, axis="y", color="black", ls=(0, (1, 1.5)), lw=0.7)
ax.grid(True, axis="x", which="minor", color="black", ls=(0, (1, 1.5)), lw=0.7)
for s in ["left", "bottom"]:
    ax.spines[s].set_color("black")
    ax.spines[s].set_linewidth(1.0)
for s in ["top", "right"]:
    ax.spines[s].set_color("#999999")
    ax.spines[s].set_linewidth(1.0)

handles = [Line2D([], [], color="black", lw=2.8),
           Line2D([], [], color="#9C6A36", lw=2.2),
           Line2D([], [], color="#0070C0", lw=1.3),
           Line2D([], [], color="#00B050", lw=1.3, ls=(0, (3, 2))),
           Line2D([], [], color="#FF0000", lw=1.3)]
leg = ax.legend(handles, ["2016", "2015", "MAX", "PROM", "MIN"], loc="upper left",
                bbox_to_anchor=((269 - 54) / 1164, (684 - 443) / 624), borderaxespad=0,
                fontsize=8.5, handlelength=4.3, handletextpad=0.6, labelspacing=1.55,
                borderpad=0.95, frameon=True, fancybox=False, edgecolor="#808080")
leg.get_frame().set_linewidth(1.0)
leg.set_zorder(10)

# capa de textos y tabla en pixeles
top = fig.add_axes([0, 0, 1, 1], zorder=5)
top.set_xlim(0, W)
top.set_ylim(H, 0)
top.axis("off")

top.text(640, 22, "NIVELES DEL RÍO HUALLAGA EN YURIMAGUAS", ha="center", va="center",
         fontsize=18.5, fontweight="bold")
top.text(33, 15, "Alturas", ha="left", va="center", fontsize=8.5)
top.text(33, 33, "geoidales", ha="left", va="center", fontsize=8.5)

# tabla ultimos 15 dias
x0, x1 = 8, 87
ancho = (1243 - 87) / len(ultimos_vals)
y_top, y_mid, y_bot = 721, 743, 768
top.add_patch(Rectangle((x1, y_mid), 1243 - x1, y_bot - y_mid, facecolor="#548DD4",
                        edgecolor="none"))
top.plot([x0, 1243], [y_top, y_top], color="black", lw=1.0)
top.plot([x0, 1243], [y_mid, y_mid], color="black", lw=2.0)
top.plot([x0, 1243], [y_bot, y_bot], color="black", lw=1.0)
top.plot([x0, x0], [y_top, y_bot], color="black", lw=1.0)
top.plot([1243, 1243], [y_top, y_bot], color="black", lw=1.0)
top.text((x0 + x1) / 2, (y_top + y_mid) / 2 + 1, "Últimos", ha="center", va="center",
         fontsize=10.5, fontweight="bold", family=[narrow, "DejaVu Sans"])
top.text((x0 + x1) / 2, (y_mid + y_bot) / 2 + 1, "15 días", ha="center", va="center",
         fontsize=10.5, fontweight="bold", family=[narrow, "DejaVu Sans"])
for i, (f, val) in enumerate(zip(ultimos_fechas, ultimos_vals)):
    xa = x1 + i * ancho
    top.plot([xa, xa], [y_top, y_bot], color="black", lw=0.8)
    top.text(xa + ancho / 2, (y_top + y_mid) / 2 + 1, f, ha="center", va="center",
             fontsize=10.5, fontweight="bold", family=[narrow, "DejaVu Sans"])
    top.text(xa + ancho / 2, (y_mid + y_bot) / 2 + 1, f"{val:.2f}", ha="center", va="center",
             fontsize=12, family=[narrow, "DejaVu Sans"])

# fuente
top.text(998, 779, "Fuente:", ha="left", va="center", fontsize=9, style="italic",
         fontweight="bold", family=serif)
top.text(1042, 779, "ENAPU", ha="left", va="center", fontsize=9, style="italic", family=serif)
top.text(993, 798, "Tiempo de reporte:", ha="left", va="center", fontsize=9, style="italic",
         fontweight="bold", family=serif)
top.text(1101, 798, "1981 -  2016", ha="left", va="center", fontsize=9, style="italic",
         family=serif)

fig.savefig("out.png", dpi=100)
